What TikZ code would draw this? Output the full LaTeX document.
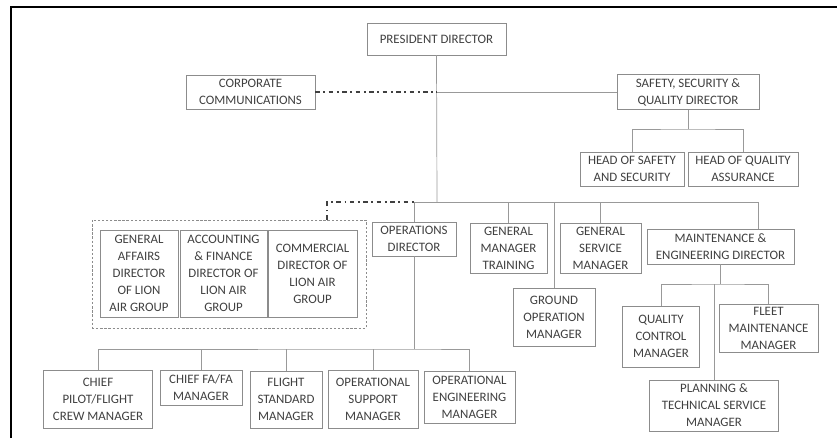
\documentclass[tikz,border=0pt]{standalone}
\usepackage{fontspec}
\setmainfont{Carlito}
\def\pu{0.03cm}
\tikzset{
  box/.style={draw=black!45, text=black!75, align=center, inner sep=1pt,
    font=\fontsize{11}{14.5}\selectfont},
  sz/.style 2 args={minimum width=#1*\pu, minimum height=#2*\pu},
  grpbox/.style={draw=black!45, line width=0.6pt, dash pattern=on 2pt off 1.5pt},
  link/.style={draw=black!40, line width=0.6pt},
  dashdotlink/.style={draw=black!75, line width=1.1pt,
    dash pattern=on 4pt off 3pt on 1.5pt off 3pt},
}
\begin{document}
\begin{tikzpicture}[x=0.03cm,y=-0.03cm]
  \useasboundingbox (0,0) rectangle (837,438);
  % frame
  \draw[line width=1.3pt] (11,438) -- (11,7) -- (837,7);

  % top level
  \node[box,sz={139}{32}] (pres) at (436.5,39) {PRESIDENT DIRECTOR};
  \node[box,sz={129}{34}] (corp) at (250.5,92) {CORPORATE\\COMMUNICATIONS};
  \node[box,sz={142}{35}] (ssq) at (688,92) {SAFETY, SECURITY \&\\QUALITY DIRECTOR};
  \node[box,sz={104}{34}] (hss) at (632,169) {HEAD OF SAFETY\\AND SECURITY};
  \node[box,sz={110}{34}] (hqa) at (743,169) {HEAD OF QUALITY\\ASSURANCE};

  % group directors
  \node[grpbox,sz={274}{108}] (grp) at (229,274) {};
  \node[box,sz={78}{87}] (gad) at (139,273.5) {GENERAL\\AFFAIRS\\DIRECTOR\\OF LION\\AIR GROUP};
  \node[box,sz={87}{87}] (afd) at (223.5,273.5) {ACCOUNTING\\\& FINANCE\\DIRECTOR OF\\LION AIR\\GROUP};
  \node[box,sz={89}{87}] (cdl) at (312.5,273.5) {COMMERCIAL\\DIRECTOR OF\\LION AIR\\GROUP};

  % second level
  \node[box,sz={84}{34}] (opsd) at (414,239) {OPERATIONS\\DIRECTOR};
  \node[box,sz={77}{50}] (gmt) at (508.5,248) {GENERAL\\MANAGER\\TRAINING};
  \node[box,sz={81}{50}] (gsm) at (600.5,248) {GENERAL\\SERVICE\\MANAGER};
  \node[box,sz={82}{58}] (gom) at (554,317) {GROUND\\OPERATION\\MANAGER};
  \node[box,sz={147}{35}] (maint) at (720.5,246.5) {MAINTENANCE \&\\ENGINEERING DIRECTOR};

  % maintenance units
  \node[box,sz={77}{61}] (qcm) at (661,336.5) {QUALITY\\CONTROL\\MANAGER};
  \node[box,sz={99}{48}] (fmm) at (768.5,328) {FLEET\\MAINTENANCE\\MANAGER};
  \node[box,sz={129}{51}] (ptm) at (714,405.5) {PLANNING \&\\TECHNICAL SERVICE\\MANAGER};

  % operations units
  \node[box,sz={109}{58}] (cpf) at (98,399) {CHIEF\\PILOT/FLIGHT\\CREW MANAGER};
  \node[box,sz={82}{35}] (cfa) at (201,387.5) {CHIEF FA/FA\\MANAGER};
  \node[box,sz={72}{57}] (fsm) at (286,399.5) {FLIGHT\\STANDARD\\MANAGER};
  \node[box,sz={90}{58}] (osm) at (373,399) {OPERATIONAL\\SUPPORT\\MANAGER};
  \node[box,sz={91}{52}] (oem) at (469.5,397) {OPERATIONAL\\ENGINEERING\\MANAGER};

  % bus points
  \coordinate (b1) at (437,202);
  \coordinate (b0) at (414,202);
  \coordinate (b9) at (758,202);
  \coordinate (g1) at (327,202);
  \coordinate (s1) at (688,129);
  \coordinate (m1) at (721,284);
  \coordinate (o1) at (414,349);

  % connectors
  \draw[link] (pres.south) -- (b1);
  \draw[dashdotlink] (corp.east) -- (corp.east -| b1);
  \draw[link] (corp.east -| b1) -- (ssq.west);
  \draw[link] (ssq.south) -- (s1);
  \draw[link] (hss.north) |- (s1) -| (hqa.north);
  \draw[dashdotlink] (grp.north -| g1) -- (g1) -- (b0);
  \draw[link] (b0) -- (b9) -- (maint.north -| b9);
  \draw[link] (b0) -- (opsd.north);
  \draw[link] (gmt.north) -- (gmt.north |- b1);
  \draw[link] (gom.north) -- (gom.north |- b1);
  \draw[link] (gsm.north) -- (gsm.north |- b1);
  \draw[link] (maint.south) -- (maint.south |- m1);
  \draw[link] (qcm.north) |- (m1) -| (fmm.north);
  \draw[link] (ptm.north) -- (ptm.north |- m1);
  \draw[link] (opsd.south) -- (o1);
  \draw[link] (cpf.north) |- (o1) -| (oem.north);
  \draw[link] (cfa.north) -- (cfa.north |- o1);
  \draw[link] (fsm.north) -- (fsm.north |- o1);
  \draw[link] (osm.north) -- (osm.north |- o1);
\end{tikzpicture}
\end{document}
